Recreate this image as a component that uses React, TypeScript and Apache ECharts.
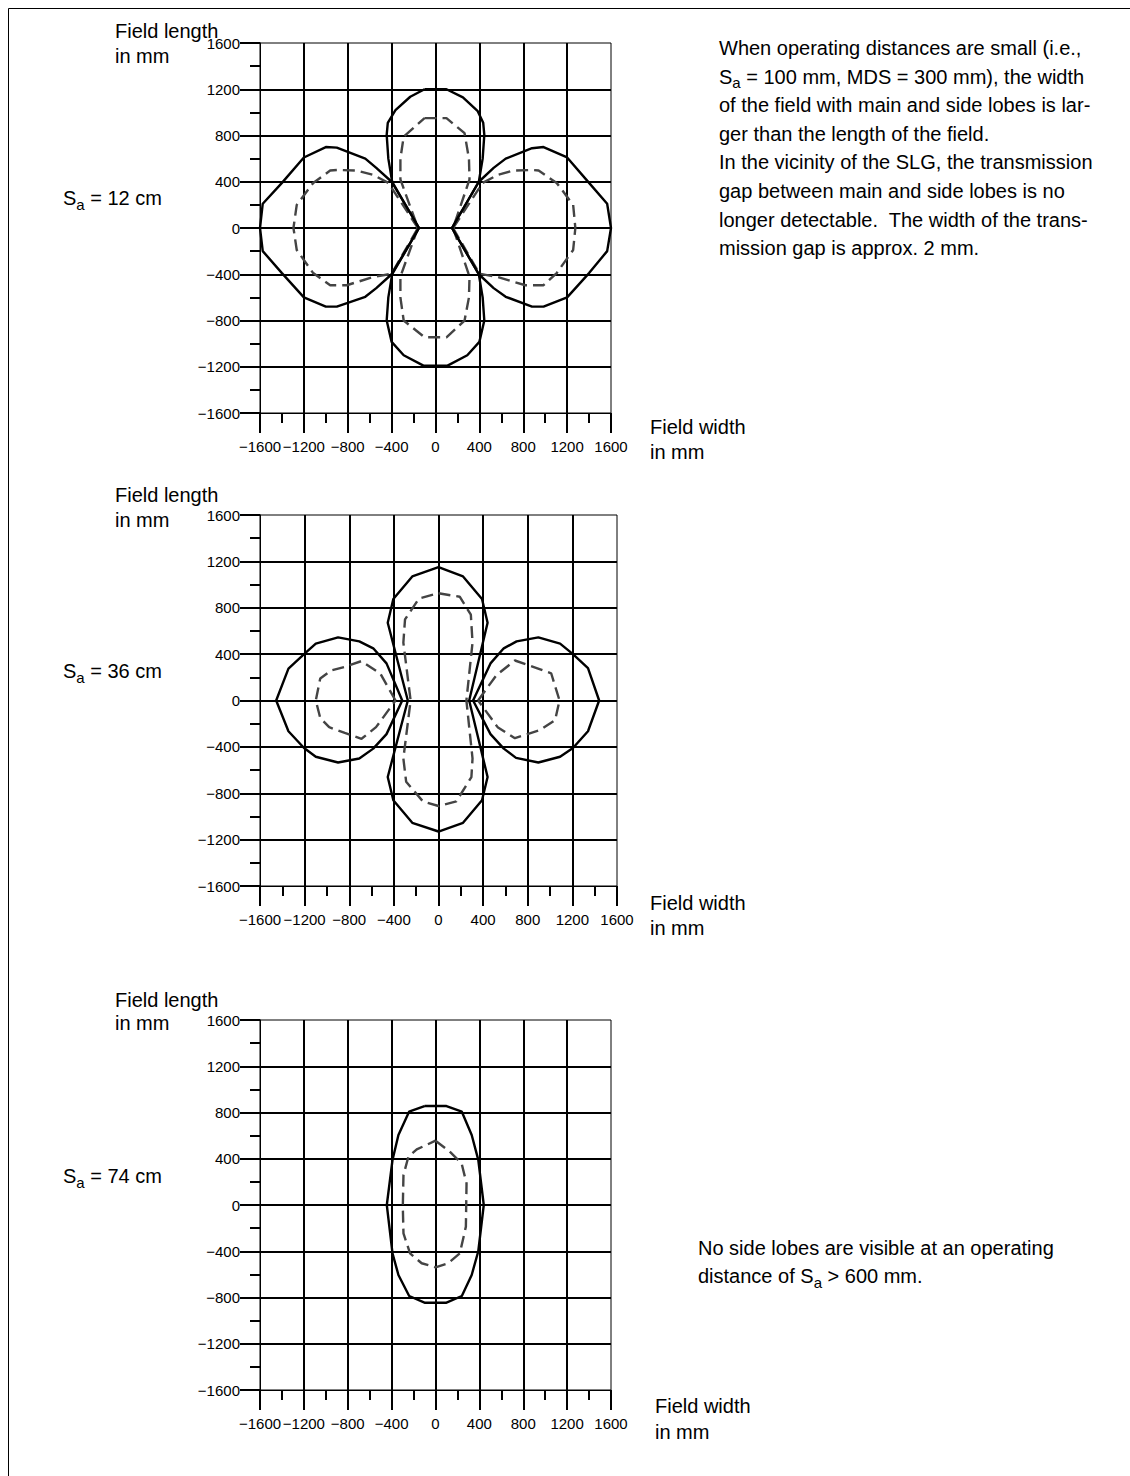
import React, { useEffect, useRef } from "react";
import * as echarts from "echarts";

const FONT = '"Liberation Sans", Arial, Helvetica, sans-serif';

// Shared axis range of the three field diagrams (mm)
const AXIS_MIN = -1600;
const AXIS_MAX = 1600;
const AXIS_STEP = 400;

// ---- Sa = 12 cm : main lobe and two side lobes ----
const MAIN_12: number[][] = [
  [-100, 1200], [100, 1200], [250, 1130], [385, 1010], [435, 910], [445, 805],
  [430, 600], [395, 400], [150, 0], [395, -400], [430, -600], [445, -800],
  [400, -985], [290, -1100], [110, -1190], [-110, -1190], [-290, -1100],
  [-400, -985], [-445, -800], [-430, -600], [-395, -400], [-150, 0], [-395, 400],
  [-430, 600], [-445, 805], [-435, 910], [-365, 1020], [-230, 1135], [-100, 1200],
];
const MAIN_12_DASH: number[][] = [
  [-100, 950], [100, 950], [265, 820], [305, 600], [310, 420], [160, 0],
  [310, -420], [305, -600], [265, -800], [100, -945], [-100, -945], [-290, -800],
  [-320, -600], [-320, -420], [-160, 0], [-320, 420], [-320, 600], [-290, 790],
  [-100, 950],
];
const SIDE_12_LEFT: number[][] = [
  [-150, 0], [-400, 400], [-540, 520], [-640, 600], [-900, 695], [-1000, 700],
  [-1200, 610], [-1400, 390], [-1575, 210], [-1600, 0], [-1575, -200],
  [-1400, -390], [-1200, -600], [-1000, -680], [-900, -680], [-640, -595],
  [-540, -520], [-400, -400], [-150, 0],
];
const SIDE_12_RIGHT: number[][] = [
  [150, 0], [395, 400], [530, 520], [640, 600], [880, 690], [985, 700],
  [1200, 610], [1400, 390], [1565, 210], [1600, 0], [1565, -200], [1400, -390],
  [1200, -600], [985, -680], [880, -680], [640, -595], [530, -520], [395, -400],
  [150, 0],
];
const SIDE_12_LEFT_DASH: number[][] = [
  [-160, 0], [-430, 390], [-570, 460], [-720, 497], [-890, 502], [-960, 497],
  [-1115, 390], [-1265, 200], [-1295, 0], [-1265, -190], [-1115, -390],
  [-960, -495], [-810, -495], [-570, -425], [-400, -395], [-160, 0],
];
const SIDE_12_RIGHT_DASH: number[][] = [
  [160, 0], [430, 390], [570, 460], [710, 497], [880, 502], [940, 497],
  [1105, 390], [1255, 200], [1275, 0], [1255, -190], [1105, -390], [985, -495],
  [820, -495], [570, -425], [400, -395], [160, 0],
];

// ---- Sa = 36 cm ----
const MAIN_36: number[][] = [
  [0, 1150], [220, 1070], [390, 875], [440, 670], [275, 0], [440, -660],
  [390, -860], [220, -1055], [0, -1130], [-235, -1055], [-405, -860],
  [-455, -660], [-275, 0], [-455, 670], [-405, 875], [-235, 1070], [0, 1150],
];
const MAIN_36_DASH: number[][] = [
  [0, 925], [190, 895], [290, 740], [305, 500], [250, 0], [305, -500],
  [295, -660], [160, -870], [0, -910], [-140, -870], [-290, -700], [-315, -500],
  [-250, 0], [-315, 500], [-300, 700], [-175, 880], [0, 925],
];
const SIDE_36_LEFT: number[][] = [
  [-325, 0], [-466, 320], [-585, 450], [-710, 510], [-900, 545], [-1100, 490],
  [-1205, 400], [-1345, 275], [-1455, 0], [-1345, -265], [-1205, -410],
  [-1100, -485], [-900, -535], [-710, -500], [-585, -415], [-466, -290], [-325, 0],
];
const SIDE_36_RIGHT: number[][] = [
  [310, 0], [466, 320], [585, 450], [700, 510], [895, 545], [1090, 490],
  [1205, 400], [1340, 280], [1440, 0], [1340, -265], [1205, -410], [1090, -485],
  [895, -535], [695, -495], [585, -415], [466, -290], [310, 0],
];
const SIDE_36_LEFT_DASH: number[][] = [
  [-385, 0], [-520, 230], [-690, 340], [-840, 290], [-960, 260], [-1060, 190],
  [-1100, 0], [-1060, -150], [-980, -230], [-840, -280], [-690, -330],
  [-560, -230], [-385, 0],
];
const SIDE_36_RIGHT_DASH: number[][] = [
  [355, 0], [520, 220], [685, 345], [880, 280], [1010, 235], [1085, 0],
  [1045, -170], [910, -255], [685, -325], [530, -230], [355, 0],
];

// ---- Sa = 74 cm : main lobe only ----
const MAIN_74: number[][] = [
  [-100, 856], [100, 856], [240, 807], [330, 605], [390, 390], [440, 0],
  [390, -400], [330, -605], [240, -787], [100, -845], [-100, -845], [-240, -787],
  [-338, -605], [-392, -418], [-444, 0], [-392, 389], [-338, 605], [-241, 807],
  [-100, 856],
];
const MAIN_74_DASH: number[][] = [
  [0, 556], [130, 462], [238, 360], [283, 187], [277, -187], [222, -418],
  [116, -504], [0, -539], [-126, -504], [-232, -418], [-292, -245], [-298, -14],
  [-292, 259], [-247, 418], [-171, 481], [0, 556],
];

const SA_VALUES = ["12 cm", "36 cm", "74 cm"];

const PANELS = [
  { solid: [MAIN_12, SIDE_12_LEFT, SIDE_12_RIGHT], dashed: [MAIN_12_DASH, SIDE_12_LEFT_DASH, SIDE_12_RIGHT_DASH] },
  { solid: [MAIN_36, SIDE_36_LEFT, SIDE_36_RIGHT], dashed: [MAIN_36_DASH, SIDE_36_LEFT_DASH, SIDE_36_RIGHT_DASH] },
  { solid: [MAIN_74], dashed: [MAIN_74_DASH] },
];

// Layout (pixels)
const PANEL_BOXES = [
  { left: 260, top: 43, width: 351, height: 370 },
  { left: 260, top: 515, width: 357, height: 371 },
  { left: 260, top: 1020, width: 351, height: 370 },
];
const PANEL_TEXT = [
  { lengthY: 31, mmY: 56, saY: 198, widthX: 650, widthY: 427, widthMmY: 452 },
  { lengthY: 495, mmY: 520, saY: 671, widthX: 650, widthY: 903, widthMmY: 928 },
  { lengthY: 1000, mmY: 1023, saY: 1176, widthX: 655, widthY: 1406, widthMmY: 1432 },
];

type Seg = { t: string; sub?: boolean };

const NOTE_TOP: Seg[][] = [
  [{ t: "When operating distances are small (i.e.," }],
  [{ t: "S" }, { t: "a", sub: true }, { t: " = 100 mm, MDS = 300 mm), the width" }],
  [{ t: "of the field with main and side lobes is lar-" }],
  [{ t: "ger than the length of the field." }],
  [{ t: "In the vicinity of the SLG, the transmission" }],
  [{ t: "gap between main and side lobes is no" }],
  [{ t: "longer detectable.  The width of the trans-" }],
  [{ t: "mission gap is approx. 2 mm." }],
];
const NOTE_BOTTOM: Seg[][] = [
  [{ t: "No side lobes are visible at an operating" }],
  [{ t: "distance of S" }, { t: "a", sub: true }, { t: " > 600 mm." }],
];

const TEXT_SIZE = 20;
const SUB_SIZE = 15;

let measureCtx: CanvasRenderingContext2D | null = null;
function textWidth(s: string, size: number): number {
  if (!measureCtx) measureCtx = document.createElement("canvas").getContext("2d");
  if (!measureCtx) return s.length * size * 0.5;
  measureCtx.font = `${size}px ${FONT}`;
  return measureCtx.measureText(s).width;
}

function textEl(text: string, x: number, y: number, size: number) {
  return {
    type: "text",
    x,
    y,
    silent: true,
    style: {
      text,
      font: `${size}px ${FONT}`,
      fill: "#000",
      align: "left",
      verticalAlign: "middle",
      textAlign: "left",
      textVerticalAlign: "middle",
    },
  };
}

function lineEls(segs: Seg[], x0: number, cy: number) {
  const out: any[] = [];
  let x = x0;
  for (const s of segs) {
    const size = s.sub ? SUB_SIZE : TEXT_SIZE;
    out.push(textEl(s.t, x, s.sub ? cy + 6 : cy, size));
    x += textWidth(s.t, size);
  }
  return out;
}

const fmt = (v: number) => (v < 0 ? `\u2212${-v}` : `${v}`);

function makeAxis(i: number, dim: "x" | "y") {
  return {
    type: "value",
    gridIndex: i,
    min: AXIS_MIN,
    max: AXIS_MAX,
    interval: AXIS_STEP,
    axisLine: { show: true, onZero: false, lineStyle: { color: "#000", width: 1 } },
    axisTick: { show: true, length: 20, lineStyle: { color: "#000", width: 2 } },
    minorTick: { show: true, splitNumber: 2, length: 10, lineStyle: { color: "#000", width: 2 } },
    minorSplitLine: { show: false },
    axisLabel: {
      show: true,
      margin: dim === "x" ? 26 : 20,
      fontSize: 15,
      fontFamily: FONT,
      color: "#000",
      showMinLabel: true,
      showMaxLabel: true,
      hideOverlap: false,
      formatter: fmt,
    },
    splitLine: {
      show: true,
      showMinLine: false,
      showMaxLine: false,
      lineStyle: { color: "#000", width: 2 },
    },
  };
}

function buildOption() {
  const series: any[] = [];
  PANELS.forEach((p, i) => {
    p.solid.forEach((d) =>
      series.push({
        type: "line",
        xAxisIndex: i,
        yAxisIndex: i,
        data: d,
        symbol: "none",
        showSymbol: false,
        silent: true,
        z: 4,
        lineStyle: { color: "#000", width: 2.4 },
      })
    );
    p.dashed.forEach((d) =>
      series.push({
        type: "line",
        xAxisIndex: i,
        yAxisIndex: i,
        data: d,
        symbol: "none",
        showSymbol: false,
        silent: true,
        z: 3,
        lineStyle: { color: "#444", width: 2.4, type: [12, 6] },
      })
    );
  });

  const elements: any[] = [
    // page frame
    { type: "line", silent: true, shape: { x1: 8.5, y1: 8.5, x2: 1130, y2: 8.5 }, style: { stroke: "#000", lineWidth: 1 } },
    { type: "line", silent: true, shape: { x1: 8.5, y1: 8.5, x2: 8.5, y2: 1476 }, style: { stroke: "#000", lineWidth: 1 } },
  ];

  PANEL_TEXT.forEach((t, i) => {
    elements.push(textEl("Field length", 115, t.lengthY, TEXT_SIZE));
    elements.push(textEl("in mm", 115, t.mmY, TEXT_SIZE));
    elements.push(...lineEls([{ t: "S" }, { t: "a", sub: true }, { t: ` = ${SA_VALUES[i]}` }], 63, t.saY));
    elements.push(textEl("Field width", t.widthX, t.widthY, TEXT_SIZE));
    elements.push(textEl("in mm", t.widthX, t.widthMmY, TEXT_SIZE));
  });

  NOTE_TOP.forEach((segs, k) => elements.push(...lineEls(segs, 719, 48 + k * 28.6)));
  NOTE_BOTTOM.forEach((segs, k) => elements.push(...lineEls(segs, 698, 1248 + k * 28)));

  return {
    animation: false,
    backgroundColor: "#fff",
    textStyle: { fontFamily: FONT },
    grid: PANEL_BOXES.map((b) => ({
      ...b,
      show: true,
      borderColor: "#000",
      borderWidth: 1,
      backgroundColor: "transparent",
      containLabel: false,
    })),
    xAxis: PANEL_BOXES.map((_, i) => makeAxis(i, "x")),
    yAxis: PANEL_BOXES.map((_, i) => makeAxis(i, "y")),
    series,
    graphic: { elements },
  };
}

export default function App() {
  const ref = useRef<HTMLDivElement>(null);
  useEffect(() => {
    if (!ref.current) return;
    const chart = echarts.init(ref.current, null, { renderer: "svg" });
    chart.setOption(buildOption() as any);
    return () => chart.dispose();
  }, []);
  return (
    <div
      ref={ref}
      style={{ position: "absolute", left: 0, top: 0, width: 1130, height: 1476, background: "#fff" }}
    />
  );
}
